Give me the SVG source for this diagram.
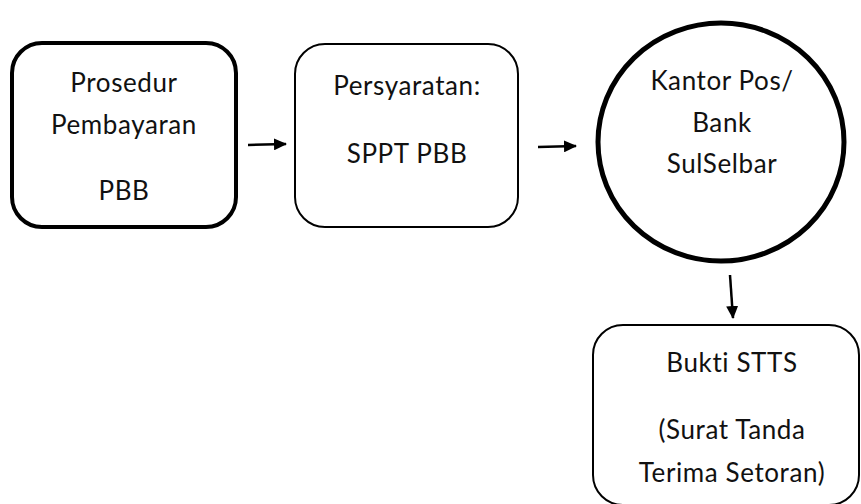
<svg xmlns="http://www.w3.org/2000/svg" width="861" height="504" viewBox="0 0 861 504">
<style>
  text { font-family: Lato, "Open Sans", "Liberation Sans", sans-serif; font-size: 26px; letter-spacing: 0.6px; fill: #111; text-anchor: middle; }
  .node { fill: #fff; stroke: #000; }
  .conn { stroke: #000; stroke-width: 2.5; fill: none; }
</style>
<defs>
  <marker id="ah" markerWidth="13" markerHeight="12" refX="12" refY="6" orient="auto" markerUnits="userSpaceOnUse">
    <path d="M0,0 L13,6 L0,12 z" fill="#000"/>
  </marker>
</defs>
<rect width="861" height="504" fill="#fff"/>
<g id="node-prosedur">
  <rect class="node" x="12" y="43" width="224" height="184" rx="30" stroke-width="4"/>
  <text x="124" y="92">Prosedur</text>
  <text x="124" y="134">Pembayaran</text>
  <text x="124" y="200">PBB</text>
</g>
<g id="node-persyaratan">
  <rect class="node" x="295" y="44" width="223" height="183" rx="30" stroke-width="2"/>
  <text x="407" y="95">Persyaratan:</text>
  <text x="407" y="163">SPPT PBB</text>
</g>
<g id="node-kantor">
  <ellipse class="node" cx="721" cy="142" rx="123" ry="119" stroke-width="5"/>
  <text x="722" y="90">Kantor Pos/</text>
  <text x="722" y="132">Bank</text>
  <text x="722" y="173">SulSelbar</text>
</g>
<g id="node-bukti">
  <rect class="node" x="593" y="325" width="266" height="180" rx="30" stroke-width="2"/>
  <text x="732" y="372">Bukti STTS</text>
  <text x="732" y="439">(Surat Tanda</text>
  <text x="732" y="482">Terima Setoran)</text>
</g>
<g id="connectors">
  <line class="conn" x1="248" y1="145" x2="286" y2="144" marker-end="url(#ah)"/>
  <line class="conn" x1="538" y1="147" x2="576" y2="146" marker-end="url(#ah)"/>
  <line class="conn" x1="730" y1="275" x2="733" y2="318" marker-end="url(#ah)"/>
</g>
</svg>
